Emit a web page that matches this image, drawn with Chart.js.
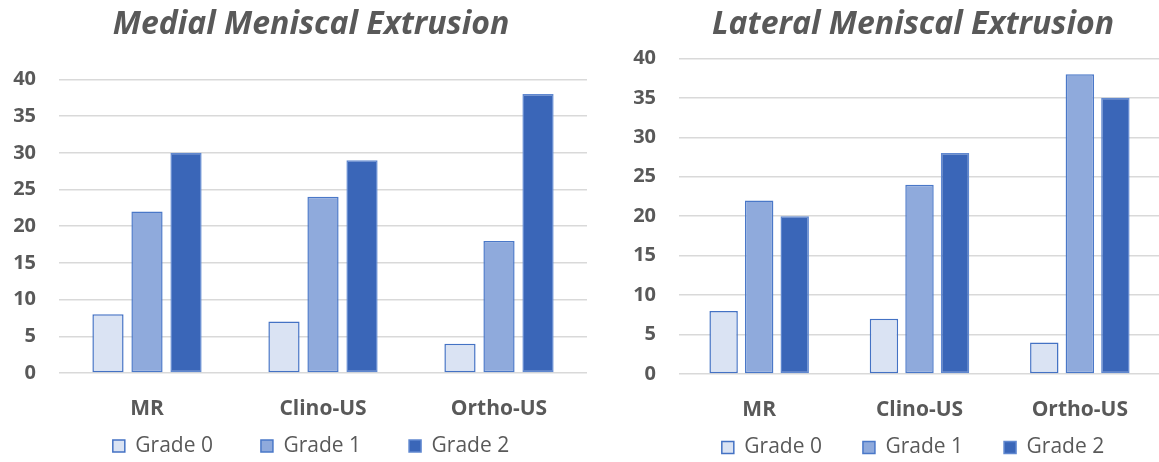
<!DOCTYPE html>
<html>
<head>
<meta charset="utf-8">
<script src="https://cdn.jsdelivr.net/npm/chart.js@4.4.0/dist/chart.umd.min.js"></script>
<style>
  html, body { margin: 0; padding: 0; background: #fff; overflow: hidden; width: 1159px; height: 462px; }
  canvas { position: absolute; top: 0; }
  #medialChart { left: 0; }
  #lateralChart { left: 600px; }
</style>
</head>
<body>
<canvas id="medialChart" width="622" height="502"></canvas>
<canvas id="lateralChart" width="626" height="495"></canvas>
<script>
// Categorias y series
const categories = ["MR", "Clino-US", "Ortho-US"];
const seriesNames = ["Grade 0", "Grade 1", "Grade 2"];

const medialGrade0 = [8, 7, 4];
const medialGrade1 = [22, 24, 18];
const medialGrade2 = [30, 29, 38];

const lateralGrade0 = [8, 7, 4];
const lateralGrade1 = [22, 24, 38];
const lateralGrade2 = [20, 28, 35];

const yTicks = [0, 5, 10, 15, 20, 25, 30, 35, 40];

// Estilos
const FILLS = ["#dae3f3", "#8faadc", "#3a66b8"];
const BORDERS = ["#4472c4", "#4a78c8", "#6088d0"];
const TEXT = "#595959";
const FONT = "'Open Sans', 'Liberation Sans', sans-serif";
const LEGEND_SIZE = 21;

// Sube la leyenda hasta la altura deseada (el padding tambien separa los items)
const legendLift = {
  id: "legendLift",
  afterLayout(chart, args, opts) {
    const lg = chart.legend;
    const natural = lg.top + lg.options.labels.padding + LEGEND_SIZE / 2;
    const dy = natural - opts.y;
    lg.top -= dy;
    lg.bottom -= dy;
  },
};

function makeDatasets(values) {
  return values.map((data, i) => ({
    label: seriesNames[i],
    data: data,
    backgroundColor: FILLS[i],
    borderColor: BORDERS[i],
    borderWidth: 1.5,
    borderSkipped: false,
    categoryPercentage: 0.665,
    barPercentage: 0.8,
  }));
}

function buildChart(id, title, values, opt) {
  const ctx = document.getElementById(id).getContext("2d");
  return new Chart(ctx, {
    type: "bar",
    data: {
      labels: categories,
      datasets: makeDatasets(values),
    },
    plugins: [legendLift],
    options: {
      responsive: false,
      animation: false,
      layout: { padding: 0 },
      plugins: {
        title: {
          display: true,
          text: title,
          color: TEXT,
          font: { family: FONT, size: 32, weight: "bold", style: "italic" },
          padding: { top: 6, bottom: opt.titleGap },
        },
        legend: {
          position: "bottom",
          labels: {
            color: TEXT,
            font: { family: FONT, size: LEGEND_SIZE },
            boxWidth: 12,
            boxHeight: 12,
            padding: opt.legendPad,
          },
        },
        legendLift: { y: opt.legendY },
        tooltip: { enabled: false },
      },
      scales: {
        x: {
          grid: { display: false },
          border: { display: false },
          ticks: {
            color: TEXT,
            font: { family: FONT, size: 21, weight: "bold" },
            padding: 15,
          },
          afterFit: (scale) => {
            scale.height = opt.xHeight;
          },
        },
        y: {
          min: 0,
          max: 40,
          afterBuildTicks: (scale) => {
            scale.ticks = yTicks.map((v) => ({ value: v }));
          },
          grid: { color: "#d9d9d9", lineWidth: 1.5, drawTicks: false },
          border: { display: false },
          ticks: {
            color: TEXT,
            font: { family: FONT, size: 20, weight: "bold" },
            padding: 23,
          },
          afterFit: (scale) => {
            scale.width = opt.yWidth;
          },
        },
        // eje vacio a la derecha, solo para centrar titulo y leyenda
        pad: {
          type: "linear",
          position: "right",
          grid: { display: false },
          border: { display: false },
          ticks: { display: false },
          afterFit: (scale) => {
            scale.width = opt.rightPad;
          },
        },
      },
    },
  });
}

buildChart("medialChart", "Medial Meniscal Extrusion",
  [medialGrade0, medialGrade1, medialGrade2],
  { yWidth: 59, rightPad: 35, titleGap: 35, legendPad: 48, legendY: 446, xHeight: 50 });

buildChart("lateralChart", "Lateral Meniscal Extrusion",
  [lateralGrade0, lateralGrade1, lateralGrade2],
  { yWidth: 79, rightPad: 66, titleGap: 14, legendPad: 41, legendY: 447.5, xHeight: 49 });
</script>
</body>
</html>
